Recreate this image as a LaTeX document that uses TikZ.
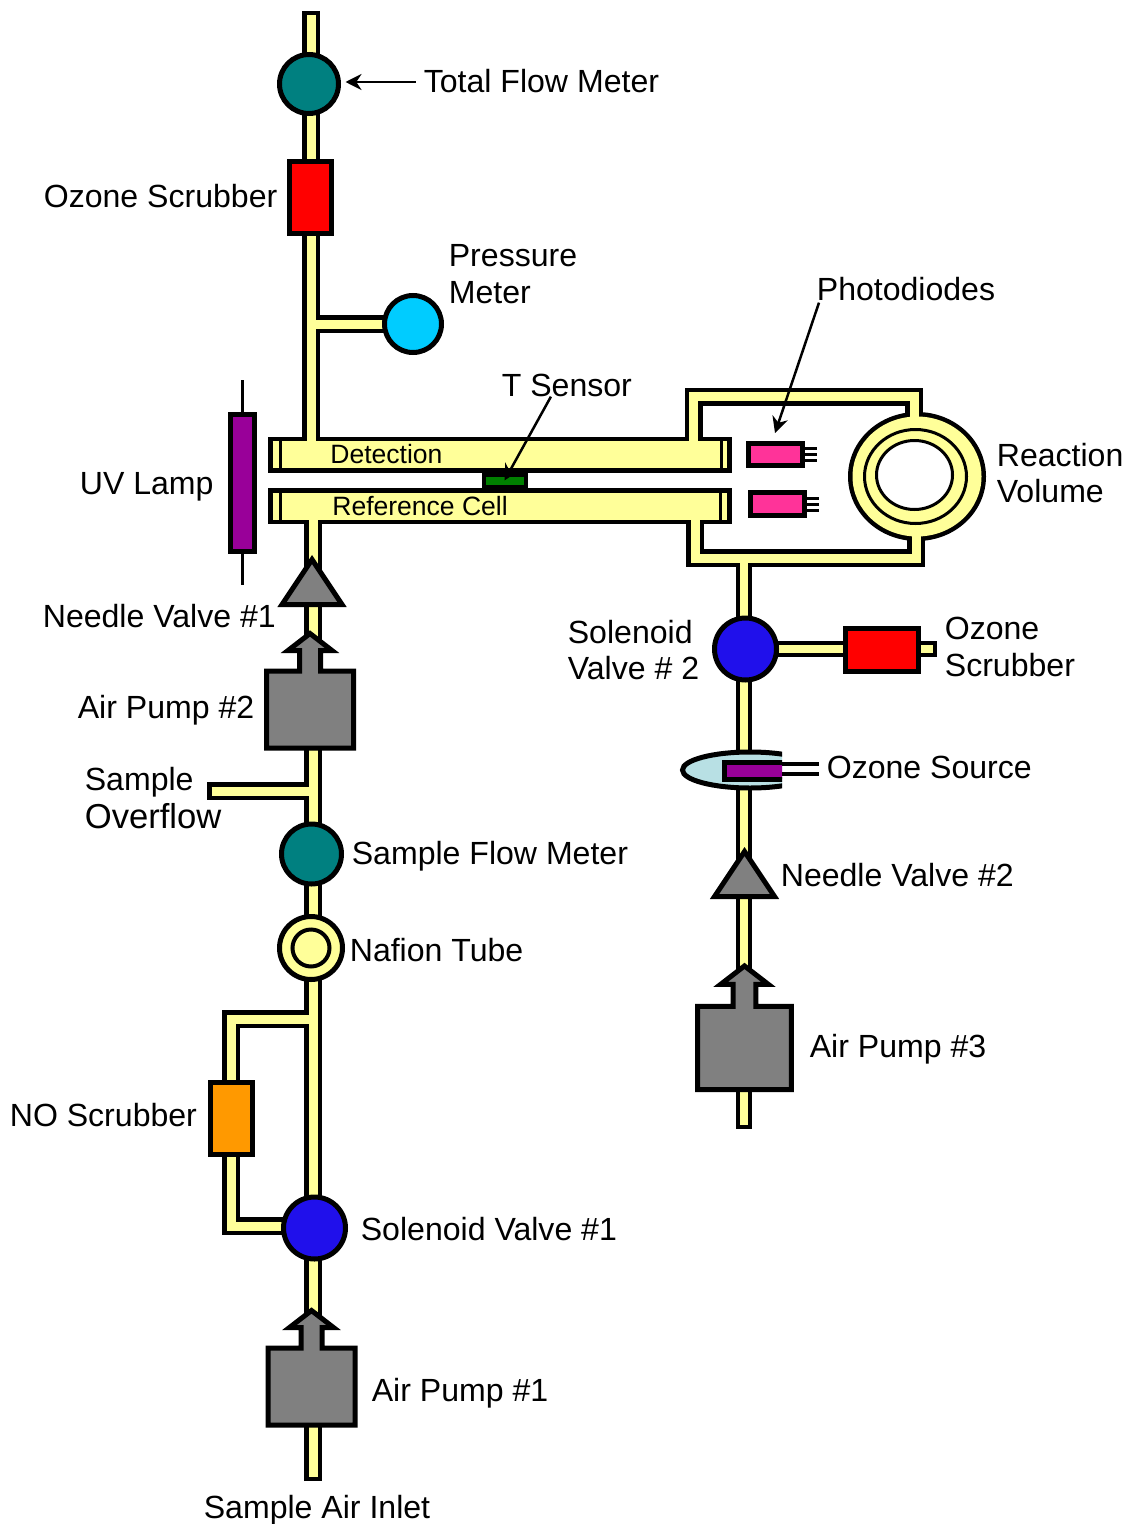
\documentclass[tikz,border=0pt]{standalone}
\usepackage{fontspec}
\setmainfont{Liberation Sans}
\usetikzlibrary{arrows.meta,backgrounds,shapes.geometric}
\definecolor{tubeyellow}{RGB}{255,255,153}
\definecolor{meterteal}{RGB}{0,128,128}
\definecolor{metercyan}{RGB}{0,204,255}
\definecolor{valveblue}{RGB}{32,16,235}
\definecolor{pumpgray}{RGB}{128,128,128}
\definecolor{lamppurple}{RGB}{153,0,153}
\definecolor{diodepink}{RGB}{255,51,153}
\definecolor{scruborange}{RGB}{255,153,0}
\definecolor{sensorgreen}{RGB}{0,128,0}
\definecolor{sourceblue}{RGB}{184,224,228}
\def\px{0.02cm}
\tikzset{
  part/.style={draw=black, line width=5*\px, inner sep=0pt, outer sep=0pt},
  roundpart/.style={part, circle, minimum size=#1*\px},
  boxpart/.style={part, rectangle},
  label/.style={font=\fontsize{18.25}{20.8}\selectfont, inner sep=0pt, anchor=base west},
  twolabel/.style={font=\fontsize{18.25}{20.8}\selectfont, inner sep=0pt, anchor=west, align=left},
  celllabel/.style={font=\fontsize{15.1}{18}\selectfont, inner sep=0pt, anchor=base west},
  pointer/.style={->, line width=2.5*\px},
  thinpin/.style={line width=3*\px},
  airpump/.pic={
    \draw[part, fill=pumpgray, miter limit=10] (-43.5,-38.5) -- (-10.5,-38.5) -- (-10.5,-59) -- (-22,-59) -- (0,-76)
      -- (22,-59) -- (10.5,-59) -- (10.5,-38.5) -- (43.5,-38.5) -- (43.5,38.5) -- (-43.5,38.5) -- cycle;
  },
  needlevalve/.pic={
    \draw[part, fill=pumpgray, miter limit=10] (0,-22.5) -- (30,22.5) -- (-30,22.5) -- cycle;
  },
}
\begin{document}
\begin{tikzpicture}[x=\px, y=-\px, >={Stealth[length=0.32cm,width=0.32cm]}]
  \useasboundingbox (0,0) rectangle (1131,1524);

  % ends and corners of the tubes
  \coordinate (topend) at (311,11);
  \coordinate (inlet) at (313,1481);
  \coordinate (overflow) at (207,791);
  \coordinate (detl) at (268,454.5);
  \coordinate (detr) at (732,454.5);
  \coordinate (refl) at (268,506);
  \coordinate (refr) at (732,506);
  \coordinate (nolow) at (231,1226);
  \coordinate (noup) at (231,1019);
  \coordinate (loopa) at (693.5,396.5);
  \coordinate (loopb) at (914,396.5);
  \coordinate (loopc) at (695,558);
  \coordinate (loopd) at (916,558);
  \coordinate (pumpend) at (744,1129);
  \coordinate (scrubend) at (937,649);
  \coordinate (ring) at (917,476.5);
  \coordinate (lamptop) at (242.5,380);
  \coordinate (lampbot) at (242.5,585);

  % parts on the left
  \node[roundpart=59, fill=meterteal] (totalmeter) at (309,84) {};
  \node[boxpart, fill=red, minimum width=42*\px, minimum height=72*\px] (ozonescrubber) at (310.5,197.5) {};
  \node[roundpart=57, fill=metercyan] (pressuremeter) at (413,324) {};
  \node[boxpart, fill=lamppurple, minimum width=24*\px, minimum height=137*\px] (uvlamp) at (242.5,483) {};
  \node[boxpart, line width=4*\px, fill=sensorgreen, minimum width=42*\px, minimum height=12*\px] (tsensor) at (504.5,480.5) {};
  \node[roundpart=60, fill=meterteal] (sampleflow) at (311.5,854) {};
  \node[roundpart=63, fill=tubeyellow] (nafion) at (311,948) {};
  \node[roundpart=37, fill=tubeyellow, line width=4*\px] (nafioninner) at (311,948) {};
  \node[boxpart, fill=scruborange, minimum width=42*\px, minimum height=72*\px] (noscrubber) at (231,1118) {};
  \node[roundpart=62, fill=valveblue] (soleone) at (314.5,1228) {};

  % parts on the right
  \node[part, ellipse, fill=tubeyellow, line width=3*\px, minimum width=102*\px, minimum height=94*\px] (ringmid) at (915.5,476.5) {};
  \node[part, ellipse, fill=white, line width=3*\px, minimum width=76*\px, minimum height=69*\px] (ringin) at (914.5,475) {};
  \node[boxpart, fill=diodepink, minimum width=54*\px, minimum height=22*\px] (diodeup) at (775,454) {};
  \node[boxpart, fill=diodepink, minimum width=54*\px, minimum height=23*\px] (diodelow) at (777,503.5) {};
  \node[roundpart=62, fill=valveblue] (soletwo) at (745.5,649) {};
  \node[boxpart, fill=red, minimum width=73*\px, minimum height=43*\px] (scrubtwo) at (882,650) {};

  % ozone source is cut off on its right side
  \begin{scope}
    \clip (670,740) rectangle (782,800);
    \node[part, ellipse, fill=sourceblue, minimum width=135*\px, minimum height=36*\px] (source) at (750,770) {};
    \node[boxpart, fill=lamppurple, minimum width=70*\px, minimum height=17*\px] (sourcelamp) at (759.5,770.5) {};
  \end{scope}

  % tubes, all black first and then all yellow so that joints stay open
  \begin{pgfonlayer}{background}
    \foreach \tubecol/\tubew/\tubecut in {black/18/0, tubeyellow/9/4.5} {
      \begin{scope}[color=\tubecol, line width=\tubew*\px]
        \fill (ring) ellipse [x radius=69-\tubecut, y radius=64.5-\tubecut];
        \draw[shorten <=\tubecut*\px] (topend) -- (topend |- detl);
        \draw[shorten <=\tubecut*\px] (inlet) -- (inlet |- refl);
        \draw[shorten <=\tubecut*\px] (overflow) -- (overflow -| inlet);
        \draw (pressuremeter) -- (pressuremeter -| topend);
        \draw[miter limit=10] (nolow -| inlet) -- (nolow) -- (noup) -- (noup -| inlet);
        \draw[miter limit=10] (detl -| loopa) -- (loopa) -- (loopb) -- (loopb |- ring);
        \draw[miter limit=10] (refl -| loopc) -- (loopc) -- (loopd) -- (loopd |- ring);
        \draw[line width=(\tubew-1.5)*\px, shorten >=\tubecut*\px] (loopc -| pumpend) -- (pumpend);
        \draw[line width=(\tubew-1.5)*\px, shorten >=\tubecut*\px] (soletwo) -- (scrubend);
        \draw[line width=(\tubew+18)*\px, shorten <=\tubecut*\px, shorten >=(\tubecut*1.2)*\px] (detl) -- (detr);
        \draw[line width=(\tubew+18)*\px, shorten <=\tubecut*\px, shorten >=(\tubecut*1.2)*\px] (refl) -- (refr);
      \end{scope}
    }
    \draw[line width=3.5*\px] (lamptop) -- (lampbot);
  \end{pgfonlayer}

  % walls inside the cells
  \draw[line width=3*\px] (280,439) -- (280,470);
  \draw[line width=3*\px] (280,490) -- (280,522);
  \draw[line width=3*\px] (721,439) -- (721,470);
  \draw[line width=3*\px] (720,490) -- (720,522);

  \pic at (312,582) {needlevalve};
  \pic at (744.5,874) {needlevalve};
  \pic at (310,709.5) {airpump};
  \pic at (311.5,1386.5) {airpump};
  \pic[scale=1.08] at (744.5,1048) {airpump};

  \foreach \piny in {448,454,460} \draw[thinpin] (diodeup.east |- 0,\piny) -- ++(15,0);
  \foreach \piny in {498,504,510} \draw[thinpin] (diodelow.east |- 0,\piny) -- ++(15,0);
  \draw[line width=3.5*\px] (782,764) -- (819,764);
  \draw[line width=3.5*\px] (782,774) -- (819,774);

  % labels
  \node[label] (totallabel) at (423.5,93) {Total Flow Meter};
  \node[label] (scrublabel) at (43.5,208) {Ozone Scrubber};
  \node[twolabel] (pressurelabel) at (448.5,274) {Pressure\\Meter};
  \node[label] (tlabel) at (501.5,396) {T Sensor};
  \node[label] (diodelabel) at (816.5,300) {Photodiodes};
  \node[label] (lamplabel) at (79.5,494) {UV Lamp};
  \node[twolabel] (reactionlabel) at (996.5,473) {Reaction\\Volume};
  \node[label] (needleonelabel) at (42.5,627) {Needle Valve \#1};
  \node[twolabel] (soletwolabel) at (567.5,650) {Solenoid\\Valve \# 2};
  \node[twolabel] (scrubtwolabel) at (944.5,647) {Ozone\\Scrubber};
  \node[label] (pumptwolabel) at (77.5,718) {Air Pump \#2};
  \node[label] (sourcelabel) at (826.5,778) {Ozone Source};
  \node[label] (samplelabel) at (84.5,790) {Sample};
  \node[label, font=\fontsize{19.7}{22}\selectfont] (overflowlabel) at (84.5,828) {Overflow};
  \node[label] (flowlabel) at (351.5,864) {Sample Flow Meter};
  \node[label] (needletwolabel) at (780.5,886) {Needle Valve \#2};
  \node[label] (nafionlabel) at (349.5,961) {Nafion Tube};
  \node[label] (pumpthreelabel) at (809.5,1057) {Air Pump \#3};
  \node[label] (nolabel) at (9.5,1126) {NO Scrubber};
  \node[label] (soleonelabel) at (360.5,1240) {Solenoid Valve \#1};
  \node[label] (pumponelabel) at (371.5,1401) {Air Pump \#1};
  \node[label] (inletlabel) at (203.5,1518) {Sample Air Inlet};
  \node[celllabel] (detlabel) at (330,463) {Detection};
  \node[celllabel] (reflabel) at (332,515) {Reference Cell};

  % pointers
  \draw[pointer] (totallabel.west |- totalmeter) ++(-8,-2) -- ([xshift=7*\px,yshift=2*\px]totalmeter.east);
  \draw[pointer] ([xshift=-16*\px]tlabel.south) -- (tsensor.center);
  \draw[pointer] ([xshift=-87*\px,yshift=-2*\px]diodelabel.south) -- ([yshift=10*\px]diodeup.north);
\end{tikzpicture}
\end{document}
